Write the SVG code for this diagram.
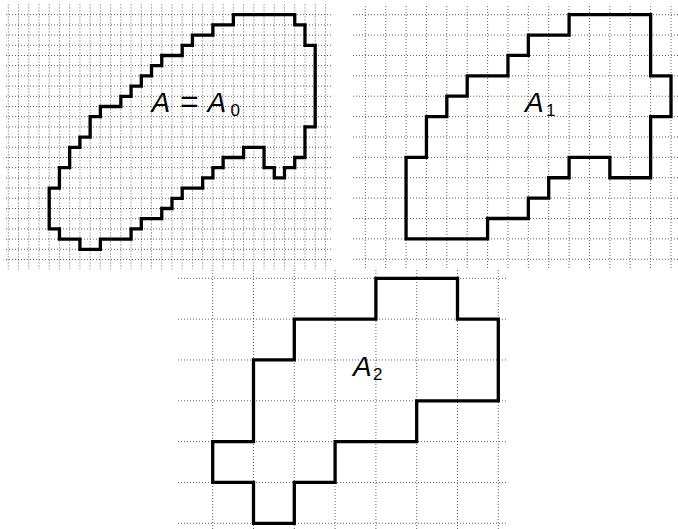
<svg xmlns="http://www.w3.org/2000/svg" width="678" height="529" viewBox="0 0 678 529">
<style>
.grid{stroke:#222;stroke-width:0.8;stroke-dasharray:0.9 2.1;fill:none}
.shape{fill:none;stroke:#000;stroke-width:3.3;stroke-linejoin:miter;stroke-linecap:square}
.lbl{font-family:"Liberation Sans","DejaVu Sans",sans-serif;fill:#000}
.it{font-style:italic;font-size:28px}
.sub{font-size:17px}
.eq{font-size:32px}
</style>
<rect width="678" height="529" fill="#fff"/>
<g id="panel-A0">
<g class="grid">
<path d="M8.3,4.5V269M18.53,4.5V269M28.76,4.5V269M38.99,4.5V269M49.22,4.5V269M59.45,4.5V269M69.68,4.5V269M79.91,4.5V269M90.14,4.5V269M100.37,4.5V269M110.6,4.5V269M120.83,4.5V269M131.06,4.5V269M141.29,4.5V269M151.52,4.5V269M161.75,4.5V269M171.98,4.5V269M182.21,4.5V269M192.44,4.5V269M202.67,4.5V269M212.9,4.5V269M223.13,4.5V269M233.36,4.5V269M243.59,4.5V269M253.82,4.5V269M264.05,4.5V269M274.28,4.5V269M284.51,4.5V269M294.74,4.5V269M304.97,4.5V269M315.2,4.5V269M325.43,4.5V269"/>
<path d="M6,14.7H333M6,24.9H333M6,35.1H333M6,45.3H333M6,55.5H333M6,65.7H333M6,75.9H333M6,86.1H333M6,96.3H333M6,106.5H333M6,116.7H333M6,126.9H333M6,137.1H333M6,147.3H333M6,157.5H333M6,167.7H333M6,177.9H333M6,188.1H333M6,198.3H333M6,208.5H333M6,218.7H333M6,228.9H333M6,239.1H333M6,249.3H333M6,259.5H333"/>
</g>
<path class="shape" d="M233.36,14.7H294.74V24.9H304.97V45.3H315.2V126.9H304.97V157.5H294.74V167.7H284.51V177.9H274.28V167.7H264.05V147.3H243.59V157.5H223.13V167.7H212.9V177.9H202.67V188.1H182.21V198.3H171.98V208.5H161.75V218.7H141.29V228.9H131.06V239.1H100.37V249.3H79.91V239.1H59.45V228.9H49.22V188.1H59.45V167.7H69.68V147.3H79.91V137.1H90.14V116.7H100.37V106.5H120.83V96.3H131.06V86.1H141.29V75.9H151.52V65.7H161.75V55.5H182.21V45.3H192.44V35.1H212.9V24.9H233.36Z"/>
<text class="lbl" y="111.5"><tspan class="it" x="151.5">A</tspan><tspan class="eq" x="180">=</tspan><tspan class="it" x="207.5">A</tspan><tspan class="sub" x="230.5" y="115.5">0</tspan></text>
</g>
<g id="panel-A1">
<g class="grid">
<path d="M365.3,6V268M385.68,6V268M406.06,6V268M426.44,6V268M446.82,6V268M467.2,6V268M487.58,6V268M507.96,6V268M528.34,6V268M548.72,6V268M569.1,6V268M589.48,6V268M609.86,6V268M630.24,6V268M650.62,6V268M671,6V268"/>
<path d="M353,14.7H678M353,35.08H678M353,55.46H678M353,75.84H678M353,96.22H678M353,116.6H678M353,136.98H678M353,157.36H678M353,177.74H678M353,198.12H678M353,218.5H678M353,238.88H678M353,259.26H678"/>
</g>
<path class="shape" d="M569.1,14.7H650.62V75.84H671V116.6H650.62V177.74H609.86V157.36H569.1V177.74H548.72V198.12H528.34V218.5H487.58V238.88H406.06V157.36H426.44V116.6H446.82V96.22H467.2V75.84H507.96V55.46H528.34V35.08H569.1Z"/>
<text class="lbl" y="111.5"><tspan class="it" x="525">A</tspan><tspan class="sub" x="546" y="115.5">1</tspan></text>
</g>
<g id="panel-A2">
<g class="grid">
<path d="M212.7,270V529M253.5,270V529M294.3,270V529M335.1,270V529M375.9,270V529M416.7,270V529M457.5,270V529M498.3,270V529"/>
<path d="M178,278.3H507M178,319.13H507M178,359.96H507M178,400.79H507M178,441.62H507M178,482.45H507M178,523.28H507"/>
</g>
<path class="shape" d="M375.9,278.3H457.5V319.13H498.3V400.79H416.7V441.62H335.1V482.45H294.3V523.28H253.5V482.45H212.7V441.62H253.5V359.96H294.3V319.13H375.9Z"/>
<text class="lbl" y="375.5"><tspan class="it" x="353">A</tspan><tspan class="sub" x="373" y="379.5">2</tspan></text>
</g>
</svg>
